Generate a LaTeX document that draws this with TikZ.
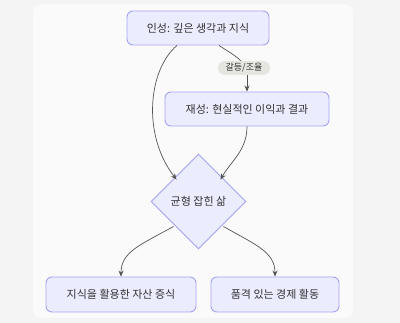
\documentclass[tikz,border=0pt]{standalone}
\usepackage{fontspec}
\setmainfont{Noto Sans CJK KR}
\usetikzlibrary{shapes.geometric,arrows.meta}
\definecolor{outerbg}{HTML}{F4F4F4}
\definecolor{panelbg}{HTML}{FAFAFA}
\definecolor{nodefill}{HTML}{ECECFF}
\definecolor{nodeborder}{HTML}{A3A3F5}
\definecolor{edgecol}{HTML}{555555}
\definecolor{lblfill}{HTML}{E6E6E1}
\definecolor{txtcol}{HTML}{333333}
\tikzset{
  box/.style={draw=nodeborder, fill=nodefill, rounded corners=6pt, line width=0.9pt,
    inner sep=0pt, text=txtcol, font=\fontsize{11}{13}\selectfont},
  decision/.style={draw=nodeborder, fill=nodefill, shape=diamond, aspect=1, line width=0.9pt,
    inner sep=0pt, minimum width=95pt, minimum height=95pt, text=txtcol, font=\fontsize{11}{13}\selectfont},
  edgelbl/.style={fill=lblfill, rounded corners=7pt, inner sep=0pt, minimum width=52pt, minimum height=14pt,
    text=txtcol, font=\fontsize{9}{10}\selectfont},
  link/.style={draw=edgecol, line width=0.7pt},
  arrowlink/.style={link, -{Stealth[length=6pt,width=5pt]}},
}
\begin{document}
\begin{tikzpicture}[x=1pt,y=-1pt]
\fill[outerbg] (0,0) rectangle (400,323);
\useasboundingbox (0,0) rectangle (400,323);
\fill[panelbg, rounded corners=8pt] (33,4) rectangle (353,318);

\node[box, minimum width=142pt, minimum height=34pt] (n1) at (198,28) {인성: 깊은 생각과 지식};
\node[box, minimum width=164pt, minimum height=34pt] (n2) at (247,109) {재성: 현실적인 이익과 결과};
\node[decision] (d) at (198.5,201.5) {균형 잡힌 삶};
\node[box, minimum width=150pt, minimum height=35pt] (n3) at (121,294.5) {지식을 활용한 자산 증식};
\node[box, minimum width=128pt, minimum height=35pt] (n4) at (275,294.5) {품격 있는 경제 활동};

% edges
\draw[arrowlink] ([xshift=-21pt]n1.south) .. controls (148,70) and (142,135) .. ([xshift=2pt,yshift=-2pt]d.north west);
\draw[link] ([xshift=21pt]n1.south) .. controls (232,54) and (240,58) .. (245,66);
\node[edgelbl] (lbl) at (244,68) {갈등/조율};
\draw[arrowlink] (lbl.south -| n2.north) -- (n2.north);
\draw[arrowlink] (n2.south) .. controls (247,150) and (232,160) .. ([xshift=-2pt,yshift=-2pt]d.north east);
\draw[link] (d.south west) ++(0,0);
\draw[arrowlink] ([xshift=-1pt,yshift=-1pt]d.south west) .. controls (140,245) and (121,252) .. (n3.north);
\draw[arrowlink] ([xshift=1pt,yshift=-1pt]d.south east) .. controls (256,245) and (275,252) .. (n4.north);
\end{tikzpicture}
\end{document}
